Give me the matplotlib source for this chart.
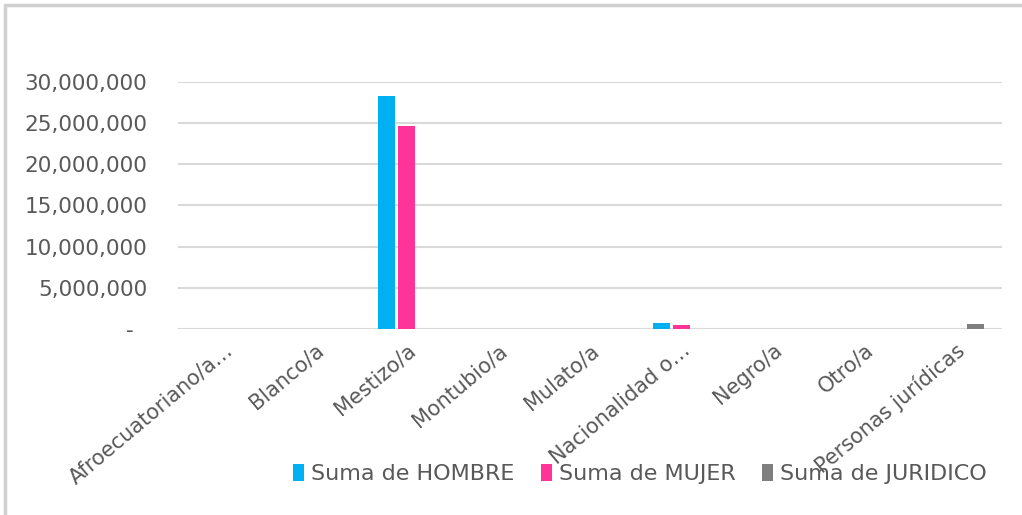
import numpy as np
import matplotlib.pyplot as plt
from matplotlib.patches import Rectangle

categorias = ['Afroecuatoriano/a…', 'Blanco/a', 'Mestizo/a', 'Montubio/a', 'Mulato/a',
              'Nacionalidad o…', 'Negro/a', 'Otro/a', 'Personas jurídicas']
hombre = [0, 0, 28300000, 0, 0, 750000, 0, 0, 0]
mujer = [0, 0, 24600000, 0, 0, 480000, 0, 0, 0]
juridico = [0, 0, 0, 0, 0, 0, 0, 0, 640000]
series = ['Suma de HOMBRE', 'Suma de MUJER', 'Suma de JURIDICO']
colores = ['#00B0F0', '#FF3399', '#7F7F7F']

texto = '#595959'
plt.rcParams['font.family'] = ['DejaVu Sans']

fig = plt.figure(figsize=(10.22, 5.15), dpi=100)
ax = fig.add_axes([0.174, 0.361, 0.806, 0.48])

x = np.arange(len(categorias))
ancho = 0.185
desp = 0.22
for i, (vals, nombre, color) in enumerate(zip([hombre, mujer, juridico], series, colores)):
    ax.bar(x + (i - 1) * desp, vals, width=ancho, color=color, label=nombre, zorder=3)

ax.set_xlim(-0.5, len(categorias) - 0.5)
ax.set_ylim(0, 30000000)
ax.set_yticks(np.arange(0, 30000001, 5000000))
ax.set_yticklabels(['-  ' if v == 0 else f'{v:,.0f}' for v in ax.get_yticks()],
                   fontsize=15.5, color=texto)
ax.set_xticks(x)
ax.set_xticklabels(categorias, rotation=40, ha='right', rotation_mode='anchor',
                   fontsize=15, color=texto)
ax.tick_params(length=0, axis='both')
ax.tick_params(axis='y', pad=22)
ax.tick_params(axis='x', pad=8)
ax.grid(axis='y', color='#d9d9d9', linewidth=1.5, zorder=0)
for s in ax.spines.values():
    s.set_visible(False)

fig.legend(loc='center', bbox_to_anchor=(0.626, 0.08), ncol=3, frameon=False,
           fontsize=16, handlelength=0.5, handleheight=0.8, handletextpad=0.3,
           columnspacing=1.2, labelcolor=texto)

# marco del gráfico
fig.add_artist(Rectangle((0.005, -0.01), 1.2, 1.0, transform=fig.transFigure,
                         fill=False, edgecolor='#d0d0d0', linewidth=2.5))

plt.savefig('out.png', dpi=100)
